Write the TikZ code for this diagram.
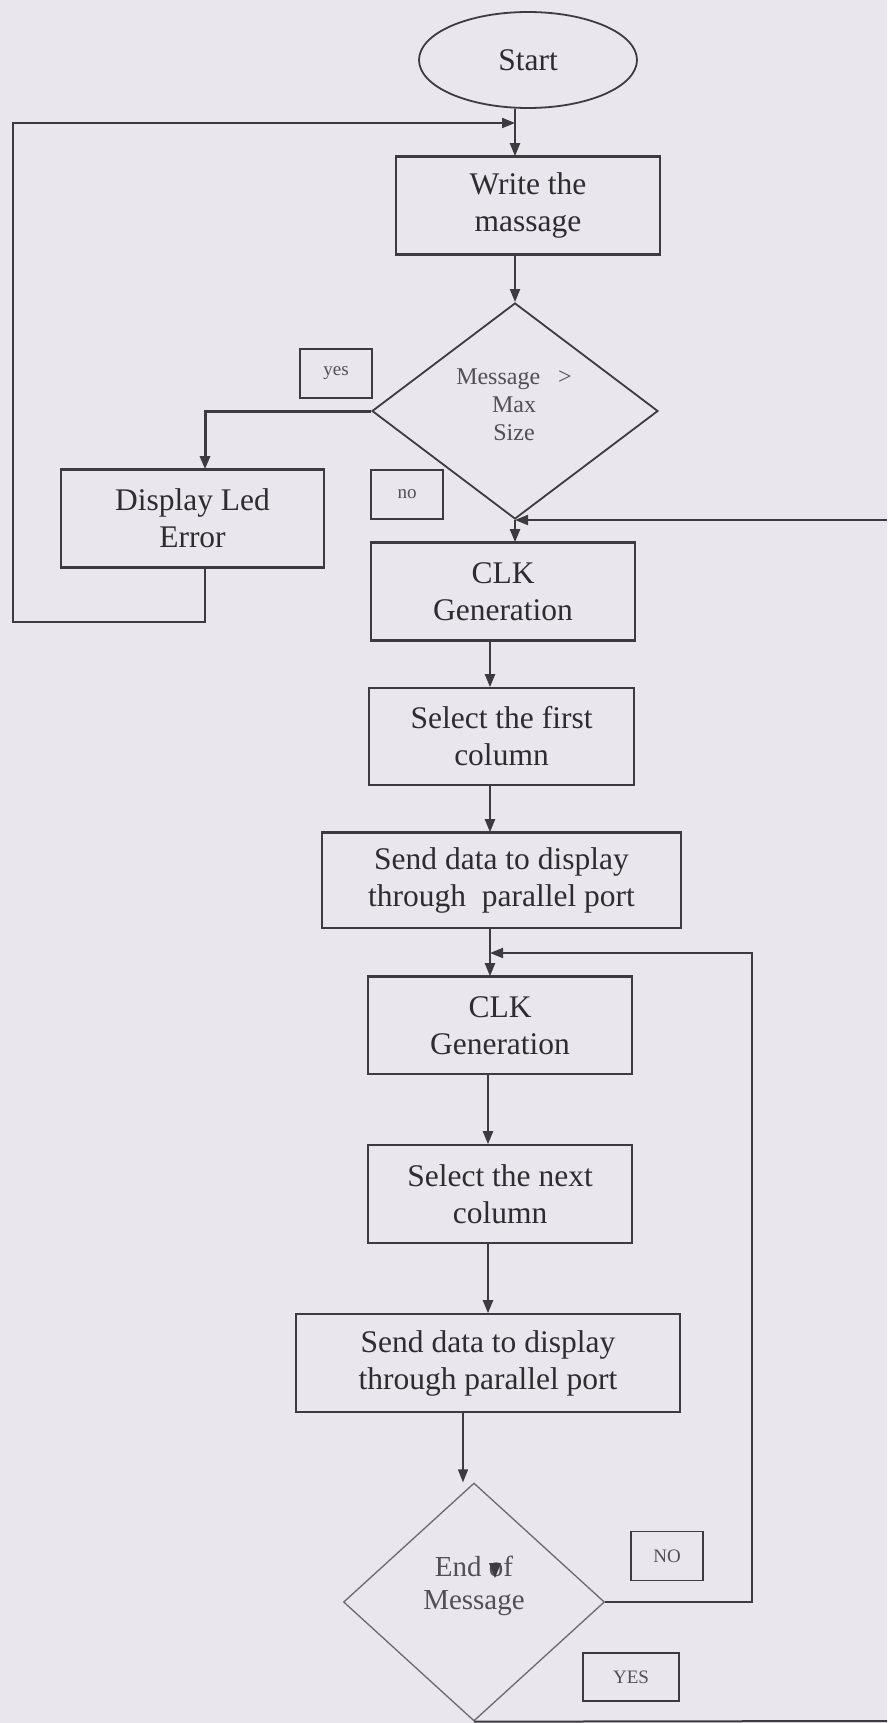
\documentclass[tikz,border=0pt]{standalone}
\usepackage{fontspec}
\setmainfont{Liberation Serif}
\usetikzlibrary{arrows.meta,shapes.geometric}
\definecolor{bgc}{RGB}{233,230,238}
\definecolor{linec}{RGB}{60,60,64}
\definecolor{lightc}{RGB}{105,105,110}
\definecolor{textc}{RGB}{45,45,48}
\definecolor{dtextc}{RGB}{80,80,85}
\newcommand{\bigf}{\fontsize{31.5}{37}\selectfont}
\newcommand{\lblf}{\fontsize{19}{22}\selectfont}
\newcommand{\decf}{\fontsize{24}{28}\selectfont}
\newcommand{\finf}{\fontsize{29}{33}\selectfont}
\tikzset{
  proc/.style={draw=linec, line width=1.6pt, rectangle, inner sep=0pt, align=center, text=textc, font=\bigf},
  lblbox/.style={draw=linec, line width=1.5pt, rectangle, inner sep=0pt, align=center, text=dtextc, font=\lblf},
  arr/.style={draw=linec, line width=2pt, -{Triangle[length=13pt,width=10pt]}},
  plain/.style={draw=linec, line width=2pt},
  heavy/.style={draw=linec, line width=2.8pt}
}
\begin{document}
\begin{tikzpicture}[x=1pt,y=-1pt]
\useasboundingbox (0,0) rectangle (887,1723);
\fill[bgc] (0,0) rectangle (887,1723);

% nodes
\node[ellipse, draw=linec, line width=1.8pt, minimum width=218pt, minimum height=96pt, inner sep=0pt, text=textc, font=\bigf] (start) at (528,60) {Start};
\node[proc, minimum width=264pt, minimum height=97pt] (write) at (528,205.5) {Write the\\massage};
\node[diamond, draw=linec, line width=1.8pt, minimum width=286pt, minimum height=216pt, inner sep=0pt] (dec1) at (515,411) {};
\node[align=center, text=dtextc, font=\decf, inner sep=0pt] (dec1t) at (514,405) {Message\ \ \ >\\Max\\Size};
\node[proc, minimum width=263pt, minimum height=97pt] (disp) at (192.5,518.5) {Display Led\\Error};
\node[lblbox, minimum width=72pt, minimum height=49pt] (yes) at (336,373.5) {yes};
\node[lblbox, minimum width=72pt, minimum height=49pt] (no) at (407,494.5) {no};
\node[proc, minimum width=264pt, minimum height=97pt] (clk1) at (503,591.5) {CLK\\Generation};
\node[proc, minimum width=265pt, minimum height=97pt] (sel1) at (501.5,736.5) {Select the first\\column};
\node[proc, minimum width=359pt, minimum height=95pt] (send1) at (501.5,880.5) {Send data to display\\through\ \ parallel port};
\node[proc, minimum width=264pt, minimum height=97pt] (clk2) at (500,1025.5) {CLK\\Generation};
\node[proc, minimum width=264pt, minimum height=98pt] (sel2) at (500,1194) {Select the next\\column};
\node[proc, minimum width=384pt, minimum height=98pt] (send2) at (488,1363) {Send data to display\\through parallel port};
\node[diamond, draw=lightc, line width=1.3pt, minimum width=261pt, minimum height=238pt, inner sep=0pt] (dec2) at (474,1602) {};
\node[align=center, text=dtextc, font=\finf, inner sep=0pt] (dec2t) at (474,1586) {End of\\Message};
\node[lblbox, minimum width=72pt, minimum height=49pt] (nob) at (667,1556) {NO};
\node[lblbox, minimum width=96pt, minimum height=48pt] (yesb) at (631,1677) {YES};

% heavier top and bottom edges as in the scan
\draw[heavy] (write.north west) -- (write.north east);
\draw[heavy] (write.south west) -- (write.south east);
\draw[heavy] (disp.north west) -- (disp.north east);
\draw[heavy] (disp.south west) -- (disp.south east);
\draw[heavy] (clk1.north west) -- (clk1.north east);
\draw[heavy] (clk1.south west) -- (clk1.south east);
\draw[heavy] (clk2.north west) -- (clk2.north east);
\draw[heavy] (send1.north west) -- (send1.north east);

% coordinates
\coordinate (m1) at (515,0);
\coordinate (yx) at (205,0);
\coordinate (m2) at (490,0);
\coordinate (m3) at (488,0);
\coordinate (m4) at (463,0);
\coordinate (lt) at (13,123);
\coordinate (lb) at (13,622);
\coordinate (r1) at (887,520);
\coordinate (lp) at (752,953);
\coordinate (rb) at (887,1721);

% connectors
\draw[arr] (m1 |- start.south) -- (m1 |- write.north);
\draw[arr] (m1 |- write.south) -- (dec1.north);
\draw[arr, line width=3pt] (dec1.west) -| (yx |- disp.north);
\draw[arr] (yx |- disp.south) |- (lb) -- (lt) -- (m1 |- lt);
\draw[arr] (dec1.south) -- (dec1.south |- clk1.north);
\draw[arr] (r1) -- (r1 -| dec1.south);
\draw[arr] (m2 |- clk1.south) -- (m2 |- sel1.north);
\draw[arr] (m2 |- sel1.south) -- (m2 |- send1.north);
\draw[arr] (m2 |- send1.south) -- (m2 |- clk2.north);
\draw[arr] (dec2.east) -| (lp) -- (m2 |- lp);
\draw[arr] (m3 |- clk2.south) -- (m3 |- sel2.north);
\draw[arr] (m3 |- sel2.south) -- (m3 |- send2.north);
\draw[arr, line width=1.5pt] (m4 |- send2.south) -- (m4 |- dec2.north);
\draw[plain] (dec2.south) -- (rb);

% stray arrowhead over the "o" of "End of"
\fill[linec] (489,1563) -- (501,1563) -- (495,1578) -- cycle;
\end{tikzpicture}
\end{document}
